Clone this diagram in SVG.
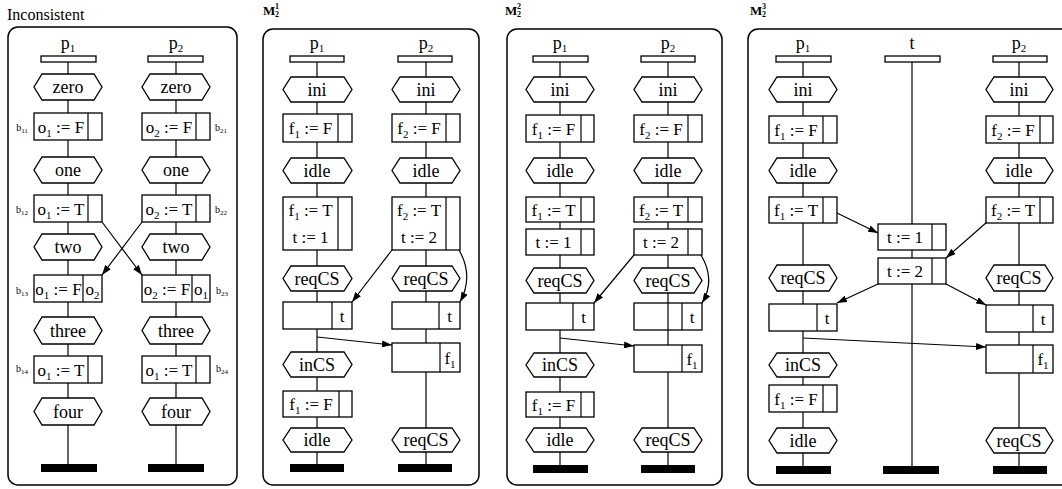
<svg xmlns="http://www.w3.org/2000/svg" width="1062" height="489" viewBox="0 0 1062 489" font-family="'Liberation Serif', 'Times New Roman', serif">
<style>
.frame{fill:none;stroke:#000;stroke-width:1.5}
.bx{fill:#fff;stroke:#000;stroke-width:1.3}
.dv{stroke:#000;stroke-width:1.2}
.ln{fill:none;stroke:#000;stroke-width:1.2}
.bar{fill:#000}
text{font-family:'Liberation Serif','Times New Roman',serif;fill:#000}
.t{font-size:17px;text-anchor:middle}
.h{font-size:18px;text-anchor:middle}
.lab{font-size:18px;text-anchor:middle}
.sb{font-size:11px}
.bl{font-size:10px;text-anchor:middle}
.bls{font-size:7px}
.ttl{font-size:13px;font-weight:bold}
.sup{font-size:8px;font-weight:bold}
</style>
<defs>
<marker id="ah" markerWidth="10" markerHeight="7" refX="10" refY="3.5" orient="auto" markerUnits="userSpaceOnUse">
<path d="M0,0 L10,3.5 L0,7 z" fill="#000"/>
</marker>
</defs>

<g id="titles">
<text x="7" y="20" style="font-size:16px">Inconsistent</text>
<text x="263" y="15" class="ttl">M</text><text x="275" y="9" class="sup">1</text><text x="275" y="17" class="sup">2</text>
<text x="505" y="15" class="ttl">M</text><text x="517" y="9" class="sup">2</text><text x="517" y="17" class="sup">2</text>
<text x="750" y="15" class="ttl">M</text><text x="762" y="9" class="sup">3</text><text x="762" y="17" class="sup">2</text>
</g>

<g id="frames">
<rect class="frame" x="8" y="27" width="229" height="458" rx="10"/>
<rect class="frame" x="263" y="29" width="216" height="456" rx="10"/>
<rect class="frame" x="507" y="29" width="215" height="456" rx="10"/>
<rect class="frame" x="748" y="29" width="340" height="456" rx="10"/>
</g>

<g id="connectors">
<line class="ln" x1="68" y1="62" x2="68" y2="464"/>
<line class="ln" x1="176" y1="62" x2="176" y2="464"/>
<line class="ln" x1="317" y1="62" x2="317" y2="464"/>
<line class="ln" x1="426" y1="62" x2="426" y2="464"/>
<line class="ln" x1="560" y1="62" x2="560" y2="465"/>
<line class="ln" x1="668" y1="62" x2="668" y2="465"/>
<line class="ln" x1="803" y1="62" x2="803" y2="466"/>
<line class="ln" x1="912" y1="62" x2="912" y2="466"/>
<line class="ln" x1="1019" y1="62" x2="1019" y2="466"/>
<line class="ln" x1="102" y1="222" x2="142" y2="275" marker-end="url(#ah)"/>
<line class="ln" x1="142" y1="222" x2="102" y2="275" marker-end="url(#ah)"/>
<line class="ln" x1="392" y1="250" x2="352" y2="302" marker-end="url(#ah)"/>
<path class="ln" d="M459,250 Q474,276 460,302" marker-end="url(#ah)"/>
<line class="ln" x1="317" y1="337" x2="392" y2="345" marker-end="url(#ah)"/>
<line class="ln" x1="634" y1="255" x2="594" y2="303" marker-end="url(#ah)"/>
<path class="ln" d="M701,255 Q716,280 702,303" marker-end="url(#ah)"/>
<line class="ln" x1="560" y1="338" x2="634" y2="346" marker-end="url(#ah)"/>
<line class="ln" x1="837" y1="213" x2="878" y2="233" marker-end="url(#ah)"/>
<line class="ln" x1="987" y1="222" x2="946" y2="258" marker-end="url(#ah)"/>
<line class="ln" x1="878" y1="284" x2="837" y2="303" marker-end="url(#ah)"/>
<line class="ln" x1="946" y1="284" x2="986" y2="305" marker-end="url(#ah)"/>
<line class="ln" x1="803" y1="338" x2="986" y2="347" marker-end="url(#ah)"/>
</g>

<g id="p1-inc-p1">
<text x="68" y="49" class="lab">p<tspan class="sb" dy="3">1</tspan></text>
<rect class="bx" x="41" y="56" width="55" height="6"/>
</g>
<g id="p1-inc-p2">
<text x="176" y="49" class="lab">p<tspan class="sb" dy="3">2</tspan></text>
<rect class="bx" x="148" y="56" width="55" height="6"/>
</g>
<g id="inc-zero1"><polygon class="bx" points="42,74 94,74 102,87 94,100 42,100 34,87"/><text x="68" y="93" class="h">zero</text></g>
<g id="inc-zero2"><polygon class="bx" points="150,74 202,74 210,87 202,100 150,100 142,87"/><text x="176" y="93" class="h">zero</text></g>
<g id="inc-b11"><rect class="bx" x="34" y="113" width="68" height="27"/><line class="dv" x1="88" y1="113" x2="88" y2="140"/><text x="61" y="132.5" class="t">o<tspan class="sb" dy="4">1</tspan><tspan dy="-4"> := F</tspan></text><text x="22" y="131" class="bl">b<tspan class="bls" dy="2">11</tspan></text></g>
<g id="inc-b21"><rect class="bx" x="142" y="113" width="68" height="27"/><line class="dv" x1="196" y1="113" x2="196" y2="140"/><text x="169" y="132.5" class="t">o<tspan class="sb" dy="4">2</tspan><tspan dy="-4"> := F</tspan></text><text x="221" y="131" class="bl">b<tspan class="bls" dy="2">21</tspan></text></g>
<g id="inc-one1"><polygon class="bx" points="42,157 94,157 102,170 94,183 42,183 34,170"/><text x="68" y="176" class="h">one</text></g>
<g id="inc-one2"><polygon class="bx" points="150,157 202,157 210,170 202,183 150,183 142,170"/><text x="176" y="176" class="h">one</text></g>
<g id="inc-b12"><rect class="bx" x="34" y="195" width="68" height="27"/><line class="dv" x1="88" y1="195" x2="88" y2="222"/><text x="61" y="214.5" class="t">o<tspan class="sb" dy="4">1</tspan><tspan dy="-4"> := T</tspan></text><text x="22" y="213" class="bl">b<tspan class="bls" dy="2">12</tspan></text></g>
<g id="inc-b22"><rect class="bx" x="142" y="195" width="68" height="27"/><line class="dv" x1="196" y1="195" x2="196" y2="222"/><text x="169" y="214.5" class="t">o<tspan class="sb" dy="4">2</tspan><tspan dy="-4"> := T</tspan></text><text x="221" y="213" class="bl">b<tspan class="bls" dy="2">22</tspan></text></g>
<g id="inc-two1"><polygon class="bx" points="42,234 94,234 102,247 94,260 42,260 34,247"/><text x="68" y="253" class="h">two</text></g>
<g id="inc-two2"><polygon class="bx" points="150,234 202,234 210,247 202,260 150,260 142,247"/><text x="176" y="253" class="h">two</text></g>
<g id="inc-b13"><rect class="bx" x="34" y="275" width="68" height="27"/><line class="dv" x1="83" y1="275" x2="83" y2="302"/><text x="58.5" y="294.5" class="t">o<tspan class="sb" dy="4">1</tspan><tspan dy="-4"> := F</tspan></text><text x="92.5" y="294.5" class="t">o<tspan class="sb" dy="4">2</tspan></text><text x="22" y="294" class="bl">b<tspan class="bls" dy="2">13</tspan></text></g>
<g id="inc-b23"><rect class="bx" x="142" y="275" width="68" height="27"/><line class="dv" x1="192" y1="275" x2="192" y2="302"/><text x="167" y="294.5" class="t">o<tspan class="sb" dy="4">2</tspan><tspan dy="-4"> := F</tspan></text><text x="201" y="294.5" class="t">o<tspan class="sb" dy="4">1</tspan></text><text x="222" y="294" class="bl">b<tspan class="bls" dy="2">23</tspan></text></g>
<g id="inc-three1"><polygon class="bx" points="42,317 94,317 102,330.5 94,344 42,344 34,330.5"/><text x="68" y="336.5" class="h">three</text></g>
<g id="inc-three2"><polygon class="bx" points="150,317 202,317 210,330.5 202,344 150,344 142,330.5"/><text x="176" y="336.5" class="h">three</text></g>
<g id="inc-b14"><rect class="bx" x="34" y="356" width="68" height="27"/><line class="dv" x1="88" y1="356" x2="88" y2="383"/><text x="61" y="375.5" class="t">o<tspan class="sb" dy="4">1</tspan><tspan dy="-4"> := T</tspan></text><text x="22" y="372" class="bl">b<tspan class="bls" dy="2">14</tspan></text></g>
<g id="inc-b24"><rect class="bx" x="142" y="356" width="68" height="27"/><line class="dv" x1="196" y1="356" x2="196" y2="383"/><text x="169" y="375.5" class="t">o<tspan class="sb" dy="4">1</tspan><tspan dy="-4"> := T</tspan></text><text x="222" y="372" class="bl">b<tspan class="bls" dy="2">24</tspan></text></g>
<g id="inc-four1"><polygon class="bx" points="42,398 94,398 102,411.5 94,425 42,425 34,411.5"/><text x="68" y="417.5" class="h">four</text></g>
<g id="inc-four2"><polygon class="bx" points="150,398 202,398 210,411.5 202,425 150,425 142,411.5"/><text x="176" y="417.5" class="h">four</text></g>
<g id="inc-end1"><rect class="bar" x="41" y="464" width="56" height="8"/></g>
<g id="inc-end2"><rect class="bar" x="148" y="464" width="56" height="8"/></g>

<g id="m1-p1"><text x="317" y="49" class="lab">p<tspan class="sb" dy="3">1</tspan></text><rect class="bx" x="290" y="56" width="54" height="6"/></g>
<g id="m1-p2"><text x="426" y="49" class="lab">p<tspan class="sb" dy="3">2</tspan></text><rect class="bx" x="398" y="56" width="54" height="6"/></g>
<g id="m1-ini1"><polygon class="bx" points="291,77 344,77 352,89.5 344,102 291,102 283,89.5"/><text x="317" y="95.5" class="h">ini</text></g>
<g id="m1-ini2"><polygon class="bx" points="400,77 452,77 460,89.5 452,102 400,102 392,89.5"/><text x="426" y="95.5" class="h">ini</text></g>
<g id="m1-f1F"><rect class="bx" x="283" y="114" width="69" height="28"/><line class="dv" x1="338" y1="114" x2="338" y2="142"/><text x="310.5" y="134" class="t">f<tspan class="sb" dy="4">1</tspan><tspan dy="-4"> := F</tspan></text></g>
<g id="m1-f2F"><rect class="bx" x="392" y="114" width="68" height="28"/><line class="dv" x1="446" y1="114" x2="446" y2="142"/><text x="419" y="134" class="t">f<tspan class="sb" dy="4">2</tspan><tspan dy="-4"> := F</tspan></text></g>
<g id="m1-idle1"><polygon class="bx" points="291,158 344,158 352,170.5 344,183 291,183 283,170.5"/><text x="317" y="176.5" class="h">idle</text></g>
<g id="m1-idle2"><polygon class="bx" points="400,158 452,158 460,170.5 452,183 400,183 392,170.5"/><text x="426" y="176.5" class="h">idle</text></g>
<g id="m1-f1T"><rect class="bx" x="283" y="197" width="69" height="53"/><line class="dv" x1="338" y1="197" x2="338" y2="250"/><text x="310.5" y="216" class="t">f<tspan class="sb" dy="4">1</tspan><tspan dy="-4"> := T</tspan></text><text x="310.5" y="243" class="t">t := 1</text></g>
<g id="m1-f2T"><rect class="bx" x="392" y="197" width="68" height="53"/><line class="dv" x1="446" y1="197" x2="446" y2="250"/><text x="419" y="216" class="t">f<tspan class="sb" dy="4">2</tspan><tspan dy="-4"> := T</tspan></text><text x="419" y="243" class="t">t := 2</text></g>
<g id="m1-req1"><polygon class="bx" points="291,266 344,266 352,278.5 344,291 291,291 283,278.5"/><text x="317" y="284.5" class="h">reqCS</text></g>
<g id="m1-req2"><polygon class="bx" points="400,266 452,266 460,278.5 452,291 400,291 392,278.5"/><text x="426" y="284.5" class="h">reqCS</text></g>
<g id="m1-wt1"><rect class="bx" x="283" y="302" width="69" height="27"/><line class="dv" x1="332" y1="302" x2="332" y2="329"/><text x="342" y="321.5" class="t">t</text></g>
<g id="m1-wt2"><rect class="bx" x="392" y="302" width="68" height="27"/><line class="dv" x1="439" y1="302" x2="439" y2="329"/><text x="449.5" y="321.5" class="t">t</text></g>
<g id="m1-wf1"><rect class="bx" x="392" y="343" width="68" height="29"/><line class="dv" x1="440" y1="343" x2="440" y2="372"/><text x="450" y="363.5" class="t">f<tspan class="sb" dy="4">1</tspan></text></g>
<g id="m1-incs"><polygon class="bx" points="291,352 344,352 352,364.5 344,377 291,377 283,364.5"/><text x="317" y="370.5" class="h">inCS</text></g>
<g id="m1-f1F2"><rect class="bx" x="283" y="391" width="69" height="26"/><line class="dv" x1="339" y1="391" x2="339" y2="417"/><text x="311" y="410" class="t">f<tspan class="sb" dy="4">1</tspan><tspan dy="-4"> := F</tspan></text></g>
<g id="m1-idle1b"><polygon class="bx" points="291,428 344,428 352,440 344,452 291,452 283,440"/><text x="317" y="446" class="h">idle</text></g>
<g id="m1-req2b"><polygon class="bx" points="400,428 452,428 460,440 452,452 400,452 392,440"/><text x="426" y="446" class="h">reqCS</text></g>
<g id="m1-end1"><rect class="bar" x="290" y="464" width="54" height="8"/></g>
<g id="m1-end2"><rect class="bar" x="398" y="464" width="54" height="8"/></g>

<g id="m2-p1"><text x="560" y="49" class="lab">p<tspan class="sb" dy="3">1</tspan></text><rect class="bx" x="533" y="56" width="55" height="6"/></g>
<g id="m2-p2"><text x="668" y="49" class="lab">p<tspan class="sb" dy="3">2</tspan></text><rect class="bx" x="641" y="56" width="54" height="6"/></g>
<g id="m2-ini1"><polygon class="bx" points="534,77 586,77 594,89.5 586,102 534,102 526,89.5"/><text x="560" y="95.5" class="h">ini</text></g>
<g id="m2-ini2"><polygon class="bx" points="642,77 694,77 702,89.5 694,102 642,102 634,89.5"/><text x="668" y="95.5" class="h">ini</text></g>
<g id="m2-f1F"><rect class="bx" x="526" y="115" width="68" height="27"/><line class="dv" x1="581" y1="115" x2="581" y2="142"/><text x="553.5" y="134.5" class="t">f<tspan class="sb" dy="4">1</tspan><tspan dy="-4"> := F</tspan></text></g>
<g id="m2-f2F"><rect class="bx" x="634" y="115" width="68" height="27"/><line class="dv" x1="688" y1="115" x2="688" y2="142"/><text x="661" y="134.5" class="t">f<tspan class="sb" dy="4">2</tspan><tspan dy="-4"> := F</tspan></text></g>
<g id="m2-idle1"><polygon class="bx" points="534,158 586,158 594,170.5 586,183 534,183 526,170.5"/><text x="560" y="176.5" class="h">idle</text></g>
<g id="m2-idle2"><polygon class="bx" points="642,158 694,158 702,170.5 694,183 642,183 634,170.5"/><text x="668" y="176.5" class="h">idle</text></g>
<g id="m2-f1T"><rect class="bx" x="526" y="197" width="68" height="25"/><line class="dv" x1="581" y1="197" x2="581" y2="222"/><text x="553.5" y="215.5" class="t">f<tspan class="sb" dy="4">1</tspan><tspan dy="-4"> := T</tspan></text></g>
<g id="m2-f2T"><rect class="bx" x="634" y="197" width="68" height="25"/><line class="dv" x1="688" y1="197" x2="688" y2="222"/><text x="661" y="215.5" class="t">f<tspan class="sb" dy="4">2</tspan><tspan dy="-4"> := T</tspan></text></g>
<g id="m2-t1"><rect class="bx" x="526" y="229" width="68" height="26"/><line class="dv" x1="581" y1="229" x2="581" y2="255"/><text x="553.5" y="248" class="t">t := 1</text></g>
<g id="m2-t2"><rect class="bx" x="634" y="229" width="68" height="26"/><line class="dv" x1="688" y1="229" x2="688" y2="255"/><text x="661" y="248" class="t">t := 2</text></g>
<g id="m2-req1"><polygon class="bx" points="534,268 586,268 594,280.5 586,293 534,293 526,280.5"/><text x="560" y="286.5" class="h">reqCS</text></g>
<g id="m2-req2"><polygon class="bx" points="642,268 694,268 702,280.5 694,293 642,293 634,280.5"/><text x="668" y="286.5" class="h">reqCS</text></g>
<g id="m2-wt1"><rect class="bx" x="526" y="303" width="68" height="27"/><line class="dv" x1="573" y1="303" x2="573" y2="330"/><text x="583.5" y="322.5" class="t">t</text></g>
<g id="m2-wt2"><rect class="bx" x="634" y="303" width="68" height="27"/><line class="dv" x1="682" y1="303" x2="682" y2="330"/><line class="ln" x1="668" y1="303" x2="668" y2="330"/><text x="692" y="322.5" class="t">t</text></g>
<g id="m2-wf1"><rect class="bx" x="634" y="345" width="68" height="27"/><line class="dv" x1="682" y1="345" x2="682" y2="372"/><text x="692" y="364.5" class="t">f<tspan class="sb" dy="4">1</tspan></text></g>
<g id="m2-incs"><polygon class="bx" points="534,353 586,353 594,365 586,377 534,377 526,365"/><text x="560" y="371" class="h">inCS</text></g>
<g id="m2-f1F2"><rect class="bx" x="526" y="392" width="68" height="25"/><line class="dv" x1="581" y1="392" x2="581" y2="417"/><text x="553.5" y="410.5" class="t">f<tspan class="sb" dy="4">1</tspan><tspan dy="-4"> := F</tspan></text></g>
<g id="m2-idle1b"><polygon class="bx" points="534,428 586,428 594,440 586,452 534,452 526,440"/><text x="560" y="446" class="h">idle</text></g>
<g id="m2-req2b"><polygon class="bx" points="642,428 694,428 702,440 694,452 642,452 634,440"/><text x="668" y="446" class="h">reqCS</text></g>
<g id="m2-end1"><rect class="bar" x="533" y="465" width="55" height="8"/></g>
<g id="m2-end2"><rect class="bar" x="641" y="465" width="54" height="8"/></g>

<g id="m3-p1"><text x="803" y="49" class="lab">p<tspan class="sb" dy="3">1</tspan></text><rect class="bx" x="776" y="56" width="55" height="6"/></g>
<g id="m3-t"><text x="912" y="49" class="lab">t</text><rect class="bx" x="885" y="56" width="55" height="6"/></g>
<g id="m3-p2"><text x="1019" y="49" class="lab">p<tspan class="sb" dy="3">2</tspan></text><rect class="bx" x="993" y="56" width="54" height="6"/></g>
<g id="m3-ini1"><polygon class="bx" points="777,77 829,77 837,89.5 829,102 777,102 769,89.5"/><text x="803" y="95.5" class="h">ini</text></g>
<g id="m3-ini2"><polygon class="bx" points="994,77 1045,77 1053,89.5 1045,102 994,102 986,89.5"/><text x="1019" y="95.5" class="h">ini</text></g>
<g id="m3-f1F"><rect class="bx" x="769" y="116" width="68" height="27"/><line class="dv" x1="823" y1="116" x2="823" y2="143"/><text x="796" y="135.5" class="t">f<tspan class="sb" dy="4">1</tspan><tspan dy="-4"> := F</tspan></text></g>
<g id="m3-f2F"><rect class="bx" x="986" y="116" width="67" height="27"/><line class="dv" x1="1040" y1="116" x2="1040" y2="143"/><text x="1013" y="135.5" class="t">f<tspan class="sb" dy="4">2</tspan><tspan dy="-4"> := F</tspan></text></g>
<g id="m3-idle1"><polygon class="bx" points="777,158 829,158 837,170.5 829,183 777,183 769,170.5"/><text x="803" y="176.5" class="h">idle</text></g>
<g id="m3-idle2"><polygon class="bx" points="994,158 1045,158 1053,170.5 1045,183 994,183 986,170.5"/><text x="1019" y="176.5" class="h">idle</text></g>
<g id="m3-f1T"><rect class="bx" x="769" y="197" width="68" height="26"/><line class="dv" x1="823" y1="197" x2="823" y2="223"/><text x="796" y="216" class="t">f<tspan class="sb" dy="4">1</tspan><tspan dy="-4"> := T</tspan></text></g>
<g id="m3-f2T"><rect class="bx" x="986" y="197" width="67" height="26"/><line class="dv" x1="1040" y1="197" x2="1040" y2="223"/><text x="1013" y="216" class="t">f<tspan class="sb" dy="4">2</tspan><tspan dy="-4"> := T</tspan></text></g>
<g id="m3-t1"><rect class="bx" x="878" y="224" width="68" height="26"/><line class="dv" x1="932" y1="224" x2="932" y2="250"/><text x="905" y="243" class="t">t := 1</text></g>
<g id="m3-t2"><rect class="bx" x="878" y="258" width="68" height="26"/><line class="dv" x1="932" y1="258" x2="932" y2="284"/><text x="905" y="277" class="t">t := 2</text></g>
<g id="m3-req1"><polygon class="bx" points="777,265 829,265 837,278 829,291 777,291 769,278"/><text x="803" y="284" class="h">reqCS</text></g>
<g id="m3-req2"><polygon class="bx" points="994,265 1045,265 1053,278 1045,291 994,291 986,278"/><text x="1019" y="284" class="h">reqCS</text></g>
<g id="m3-wt1"><rect class="bx" x="769" y="304" width="68" height="27"/><line class="dv" x1="817" y1="304" x2="817" y2="331"/><text x="827" y="323.5" class="t">t</text></g>
<g id="m3-wt2"><rect class="bx" x="986" y="305" width="67" height="27"/><line class="dv" x1="1033" y1="305" x2="1033" y2="332"/><text x="1043" y="324.5" class="t">t</text></g>
<g id="m3-wf1"><rect class="bx" x="986" y="345" width="67" height="28"/><line class="dv" x1="1033" y1="345" x2="1033" y2="373"/><text x="1043" y="365" class="t">f<tspan class="sb" dy="4">1</tspan></text></g>
<g id="m3-incs"><polygon class="bx" points="777,353 829,353 837,365 829,377 777,377 769,365"/><text x="803" y="371" class="h">inCS</text></g>
<g id="m3-f1F2"><rect class="bx" x="769" y="385" width="68" height="27"/><line class="dv" x1="823" y1="385" x2="823" y2="412"/><text x="796" y="404.5" class="t">f<tspan class="sb" dy="4">1</tspan><tspan dy="-4"> := F</tspan></text></g>
<g id="m3-idle1b"><polygon class="bx" points="777,428 829,428 837,440.5 829,453 777,453 769,440.5"/><text x="803" y="446.5" class="h">idle</text></g>
<g id="m3-req2b"><polygon class="bx" points="994,428 1045,428 1053,440.5 1045,453 994,453 986,440.5"/><text x="1019" y="446.5" class="h">reqCS</text></g>
<g id="m3-end1"><rect class="bar" x="776" y="466" width="55" height="8"/></g>
<g id="m3-endt"><rect class="bar" x="883" y="466" width="56" height="8"/></g>
<g id="m3-end2"><rect class="bar" x="993" y="466" width="54" height="8"/></g>
</svg>
